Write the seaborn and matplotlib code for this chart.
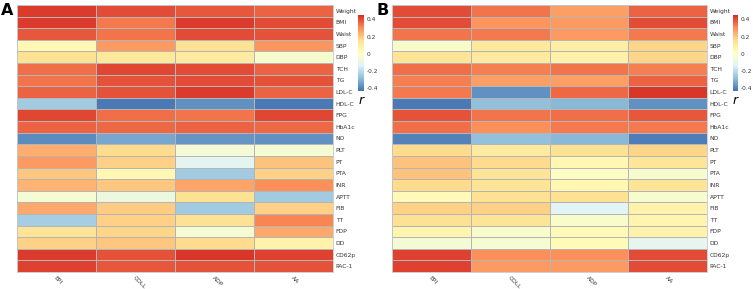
import numpy as np
import pandas as pd
import matplotlib
matplotlib.use('Agg')
import matplotlib.pyplot as plt
import seaborn as sns
from matplotlib.colors import LinearSegmentedColormap

rows = ['Weight', 'BMI', 'Waist', 'SBP', 'DBP', 'TCH', 'TG', 'LDL-C', 'HDL-C',
        'FPG', 'HbA1c', 'NO', 'PLT', 'PT', 'PTA', 'INR', 'APTT', 'FIB', 'TT',
        'FDP', 'DD', 'CD62p', 'PAC-1']
cols = ['EPI', 'COLL', 'ADP', 'AA']

# correlation r, panel A (EPI, COLL, ADP, AA)
epi_a = [0.43, 0.43, 0.38, 0.04, 0.15, 0.35, 0.34, 0.37, -0.25, 0.41, 0.37, -0.38,
         0.24, 0.28, 0.20, 0.23, -0.04, 0.25, -0.24, 0.14, 0.18, 0.43, 0.42]
coll_a = [0.40, 0.33, 0.34, 0.28, 0.12, 0.41, 0.39, 0.39, -0.42, 0.35, 0.36, -0.33,
          0.16, 0.18, 0.05, 0.20, -0.07, 0.19, 0.18, 0.17, 0.20, 0.39, 0.38]
adp_a = [0.38, 0.43, 0.40, 0.15, 0.10, 0.40, 0.40, 0.43, -0.37, 0.34, 0.37, -0.36,
         -0.05, -0.12, -0.25, 0.26, 0.15, -0.25, 0.15, -0.04, 0.16, 0.44, 0.39]
aa_a = [0.37, 0.40, 0.39, 0.29, -0.03, 0.37, 0.39, 0.37, -0.42, 0.41, 0.36, -0.37,
        -0.04, 0.21, 0.18, 0.30, -0.25, 0.18, 0.31, 0.25, 0.07, 0.42, 0.39]

# panel B
epi_b = [0.40, 0.40, 0.34, -0.02, 0.14, 0.35, 0.32, 0.33, -0.42, 0.39, 0.35, -0.40,
         0.16, 0.21, 0.21, 0.16, 0.03, 0.18, 0.15, 0.06, -0.05, 0.42, 0.42]
coll_b = [0.34, 0.29, 0.33, 0.12, 0.11, 0.32, 0.27, -0.37, -0.28, 0.34, 0.30, -0.28,
          0.10, 0.16, 0.14, 0.14, 0.15, 0.18, 0.14, -0.02, -0.04, 0.30, 0.28]
adp_b = [0.27, 0.28, 0.28, 0.09, 0.08, 0.34, 0.27, 0.36, -0.29, 0.35, 0.33, -0.29,
         0.15, 0.05, 0.00, 0.05, 0.15, -0.13, -0.02, 0.03, 0.03, 0.30, 0.28]
aa_b = [0.37, 0.40, 0.33, 0.17, 0.17, 0.32, 0.37, 0.44, -0.37, 0.38, 0.33, -0.41,
        0.17, 0.13, -0.03, 0.14, -0.03, 0.07, 0.06, 0.07, -0.11, 0.40, 0.40]

df_a = pd.DataFrame({'EPI': epi_a, 'COLL': coll_a, 'ADP': adp_a, 'AA': aa_a}, index=rows)
df_b = pd.DataFrame({'EPI': epi_b, 'COLL': coll_b, 'ADP': adp_b, 'AA': aa_b}, index=rows)

# pheatmap default palette (reversed RdYlBu, 7 colours)
cmap = LinearSegmentedColormap.from_list(
    'rdylbu7', ['#4575B4', '#91BFDB', '#E0F3F8', '#FFFFBF', '#FEE090', '#FC8D59', '#D73027'], N=100)

W, H = 753, 289
fig = plt.figure(figsize=(W / 100, H / 100), dpi=100)


def px(x0, y0, x1, y1):
    return [x0 / W, 1 - y1 / H, (x1 - x0) / W, (y1 - y0) / H]


def panel(df, hm_box, cb_box, letter, letter_xy):
    ax = fig.add_axes(px(*hm_box))
    cax = fig.add_axes(px(*cb_box))
    vmin = min(df.values.min(), -0.43)
    vmax = max(df.values.max(), 0.45)
    sns.heatmap(df, ax=ax, cbar_ax=cax, cmap=cmap, vmin=vmin, vmax=vmax,
                linewidths=0.6, linecolor='#b5b5b5')
    ax.yaxis.tick_right()
    ax.set_yticks(np.arange(len(rows)) + 0.5)
    ax.set_yticklabels(rows, rotation=0, fontsize=4.3, color='#333333')
    ax.set_xticks(np.arange(len(cols)) + 0.5)
    ax.set_xticklabels(cols, rotation=-45, ha='left', va='top',
                       rotation_mode='anchor', fontsize=4.3, color='#333333')
    ax.tick_params(length=0, pad=2)
    for s in ax.spines.values():
        s.set_visible(True)
        s.set_color('#c8c8c8')
        s.set_linewidth(0.6)
    cbar = ax.collections[0].colorbar
    cbar.set_ticks([-0.4, -0.2, 0, 0.2, 0.4])
    cbar.set_ticklabels(['-0.4', '-0.2', '0', '0.2', '0.4'])
    cbar.outline.set_visible(False)
    cax.tick_params(labelsize=4.2, length=0, pad=2, colors='#333333')
    cbx = (cb_box[0] + cb_box[2]) / 2
    fig.text(cbx / W, 1 - (cb_box[3] + 9) / H, 'r', style='italic',
             fontsize=9, ha='center', va='center')
    fig.text(letter_xy[0] / W, 1 - letter_xy[1] / H, letter, fontsize=11.5,
             fontweight='bold', ha='left', va='top')


panel(df_a, (17, 5, 333, 272), (358, 15, 364, 91), 'A', (1, 3))
panel(df_b, (392, 5, 707, 272), (733, 15, 738, 91), 'B', (377, 3))

fig.savefig('out.png', dpi=100)
